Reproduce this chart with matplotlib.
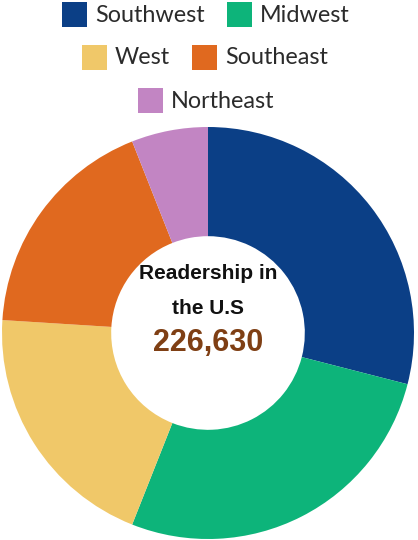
import matplotlib.pyplot as plt
from matplotlib.patches import Rectangle

regions = ["Southwest", "Midwest", "West", "Southeast", "Northeast"]
shares = [29, 27, 20, 18, 6]
colors = ["#0B3F86", "#0DB47A", "#F0C869", "#E0691F", "#C285C3"]
center_title = ["Readership in", "the U.S"]
total = "226,630"

W, H = 418, 540
fig = plt.figure(figsize=(W / 100, H / 100), dpi=100)

# donut
ax = fig.add_axes([2 / W, 1 / H, 412 / W, 412 / H])
ax.pie(shares, colors=colors, startangle=90, counterclock=False, radius=1,
       wedgeprops=dict(width=0.53, linewidth=0))
ax.set_xlim(-1, 1)
ax.set_ylim(-1, 1)
ax.set_aspect("equal")
ax.axis("off")

ax.text(0, 0.29, center_title[0], ha="center", va="center", fontsize=15,
        fontweight="bold", family="Liberation Sans", color="#111111")
ax.text(0, 0.12, center_title[1], ha="center", va="center", fontsize=15,
        fontweight="bold", family="Liberation Sans", color="#111111")
ax.text(0, -0.05, total, ha="center", va="center", fontsize=22,
        fontweight="bold", family="Liberation Sans", color="#7F3F14")

# legend, 3 centred rows (pixel positions: square left, row centre y)
rows = [(62, 14), (227, 14), (82, 57), (192, 57), (138, 100)]
for (x, y), name, c in zip(rows, regions, colors):
    fig.patches.append(Rectangle((x / W, 1 - (y + 12.5) / H), 25 / W, 25 / H,
                                 transform=fig.transFigure, facecolor=c,
                                 edgecolor="none"))
    fig.text((x + 33) / W, 1 - (y + 1) / H, name, ha="left", va="center",
             fontsize=16.8, family="Lato", color="#2B2B2B")

fig.savefig("out.png", dpi=100)
